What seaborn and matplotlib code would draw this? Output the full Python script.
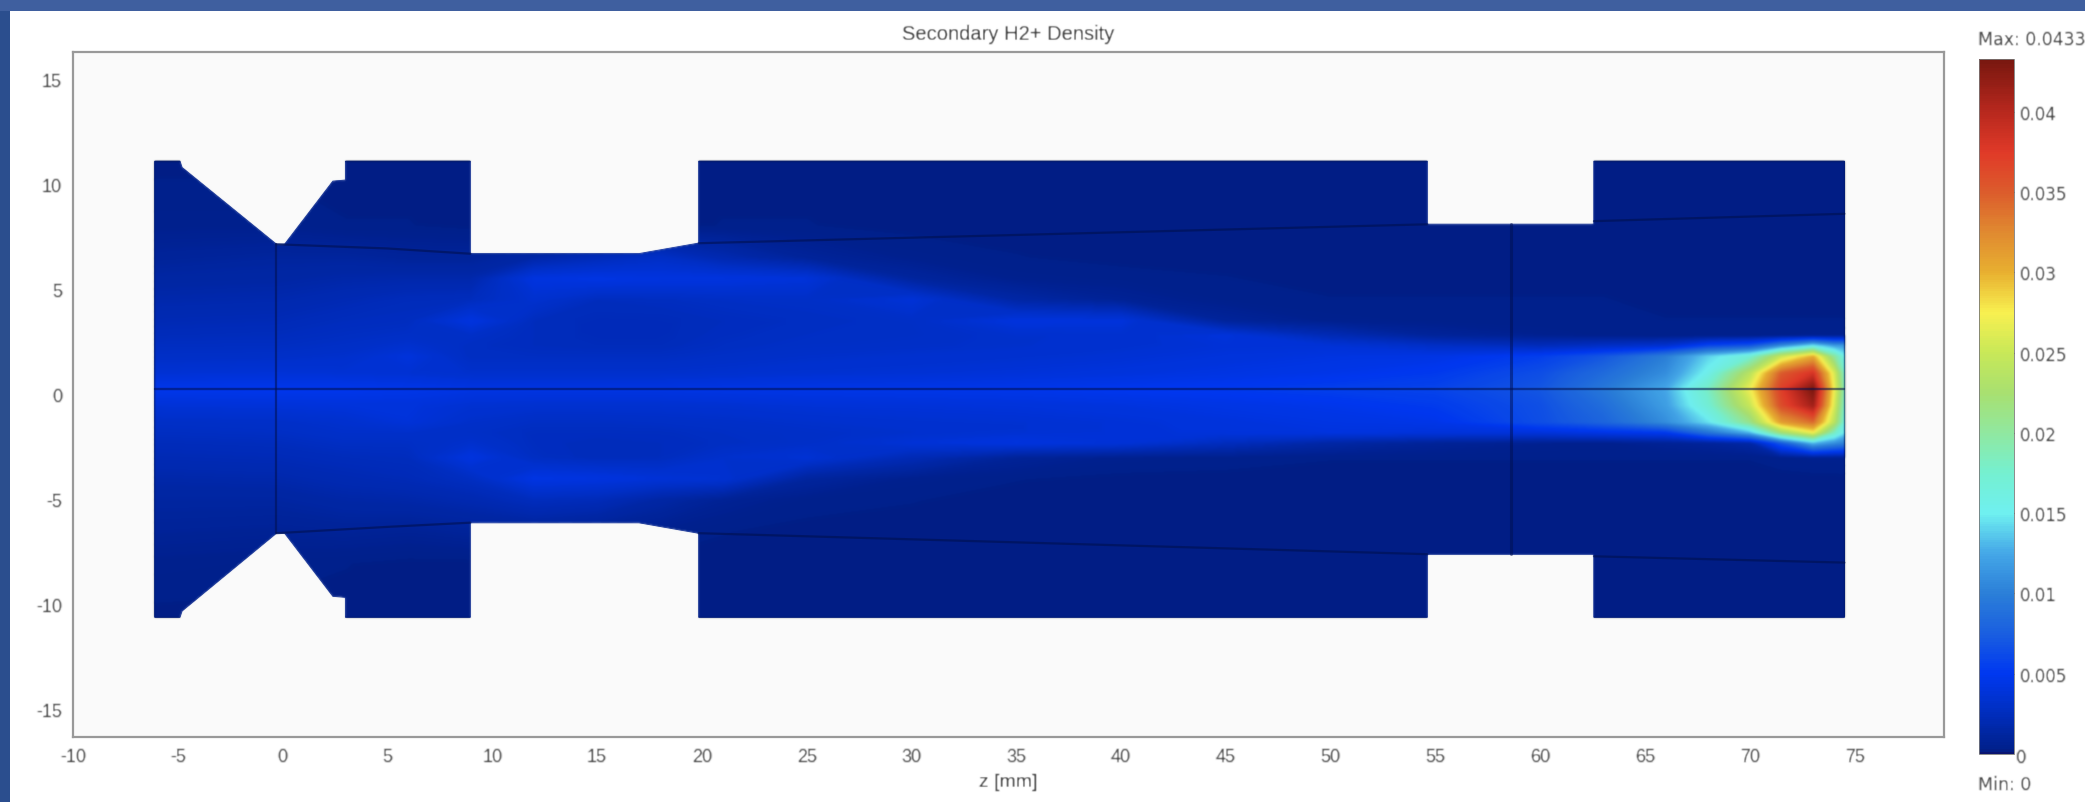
import numpy as np
import matplotlib
matplotlib.use("Agg")
import matplotlib.pyplot as plt
import seaborn as sns
from matplotlib.colors import LinearSegmentedColormap
from matplotlib.patches import Polygon, Rectangle

sns.set_theme(style="white")
plt.rcParams['font.family'] = ['Liberation Sans', 'DejaVu Sans']

# domain outline, mm
outline_z = [-6.1, -4.9, -4.8, -0.3, 0.1, 2.4, 3, 3, 8.95, 8.95, 17, 19.85, 19.85, 54.6, 54.6, 62.55, 62.55, 74.5,
             74.5, 62.55, 62.55, 54.6, 54.6, 19.85, 19.85, 17, 8.95, 8.95, 3, 3, 2.4, 0.1, -0.3, -4.8, -4.9, -6.1]
outline_r = [11.1, 11.1, 10.8, 7.15, 7.15, 10.15, 10.2, 11.1, 11.1, 6.7, 6.7, 7.2, 11.1, 11.1, 8.1, 8.1, 11.1, 11.1,
             -10.6, -10.6, -7.6, -7.6, -10.6, -10.6, -6.6, -6.1, -6.1, -10.6, -10.6, -9.65, -9.6, -6.6, -6.6, -10.3, -10.6, -10.6]

# thin dark edges inside the domain
axis_z, axis_r = [-6.1, 74.5], [0.25, 0.25]
inlet_z, inlet_r = [-0.3, -0.3], [7.15, -6.6]
gap_z, gap_r = [58.6, 58.6], [8.1, -7.6]
upper_a_z, upper_a_r = [-0.3, 5, 8.95], [7.15, 6.95, 6.7]
upper_b_z, upper_b_r = [19.85, 54.6], [7.2, 8.1]
upper_c_z, upper_c_r = [62.55, 74.5], [8.25, 8.6]
lower_a_z, lower_a_r = [-0.3, 5, 8.95], [-6.6, -6.3, -6.1]
lower_b_z, lower_b_r = [19.85, 54.6], [-6.6, -7.6]
lower_c_z, lower_c_r = [62.55, 74.5], [-7.7, -8.0]

# density, units of 1e-3
z_st = [-6.2, -0.3, 3, 6, 9, 12, 15, 18, 21, 25, 30, 35, 40, 45, 50, 55, 60, 63, 66, 68, 70, 71.5, 73, 74, 74.6]
r_st = [11.2, 8, 6.5, 5.5, 4.5, 3.5, 2.8, 2.3, 1.8, 1.0, 0.25, -0.5, -1.3, -1.8, -2.3, -3, -4, -5, -6.5, -8, -10.7]
profiles = [
    [.2, .5, 1.0, 1.4, 1.8, 2.2, 2.5, 2.8, 3.0, 3.7, 4.8, 3.8, 3.0, 2.8, 2.5, 2.2, 1.7, 1.3, .9, .5, .2],
    [.2, .5, 1.2, 1.5, 1.9, 2.3, 2.6, 2.8, 3.1, 3.8, 4.9, 3.9, 3.1, 2.9, 2.6, 2.3, 1.8, 1.3, .8, .4, .2],
    [.2, .3, 1.2, 1.7, 2.2, 2.6, 2.8, 3.0, 3.3, 3.7, 4.9, 4.0, 3.4, 3.2, 2.9, 2.5, 2.1, 1.6, .9, .3, .2],
    [.2, .3, 1.0, 1.8, 2.5, 2.7, 3.0, 3.4, 4.0, 3.6, 4.7, 4.0, 3.9, 3.2, 2.9, 2.6, 2.3, 1.7, .8, .2, .2],
    [.2, .2, 1.0, 1.8, 2.6, 4.2, 3.0, 2.8, 2.8, 3.3, 4.4, 3.6, 3.2, 3.0, 3.3, 4.2, 2.8, 2.0, 1.0, .2, .2],
    [.2, .2, 1.6, 4.2, 3.4, 2.6, 2.6, 2.6, 2.8, 3.3, 4.4, 3.5, 2.9, 2.7, 2.7, 2.8, 4.4, 2.6, 1.0, .2, .2],
    [.2, .2, 2.4, 4.4, 2.6, 2.4, 2.4, 2.5, 2.8, 3.3, 4.4, 3.5, 2.9, 2.7, 2.5, 2.5, 4.2, 2.4, .7, .2, .2],
    [.2, .2, 3.0, 4.2, 2.7, 2.4, 2.4, 2.5, 2.8, 3.3, 4.4, 3.5, 3.0, 2.7, 2.6, 2.6, 3.8, 1.5, .5, .2, .2],
    [.2, .3, 2.0, 4.2, 2.9, 2.6, 2.7, 2.8, 3.0, 3.4, 4.5, 3.6, 3.1, 2.9, 2.8, 3.3, 3.6, .8, .3, .2, .2],
    [.2, .3, 1.0, 3.9, 3.0, 2.8, 2.9, 3.0, 3.2, 3.6, 4.6, 3.8, 3.3, 3.1, 3.1, 3.7, 1.2, .4, .2, .2, .2],
    [.2, .2, .5, 1.2, 3.8, 3.0, 3.0, 3.1, 3.4, 3.7, 4.7, 3.9, 3.5, 3.3, 3.8, 2.2, .5, .3, .2, .2, .2],
    [.2, .2, .3, .5, 1.5, 4.1, 3.3, 3.3, 3.5, 3.9, 4.8, 4.0, 3.6, 3.6, 4.2, .9, .3, .2, .2, .2, .2],
    [.2, .2, .2, .4, .8, 4.0, 3.4, 3.5, 3.7, 4.1, 5.0, 4.2, 3.8, 3.8, 3.8, .5, .2, .2, .2, .2, .2],
    [.2, .2, .2, .3, .4, 1.0, 4.0, 3.8, 4.0, 4.4, 5.2, 4.5, 4.1, 4.0, 2.6, .4, .2, .2, .2, .2, .2],
    [.2, .2, .2, .2, .3, .5, 2.2, 3.8, 4.3, 4.7, 5.5, 4.8, 4.4, 4.2, 1.5, .3, .2, .2, .2, .2, .2],
    [.2, .2, .2, .2, .3, .4, 1.0, 3.0, 4.5, 5.2, 5.8, 5.3, 4.7, 4.0, .9, .3, .2, .2, .2, .2, .2],
    [.2, .2, .2, .2, .3, .3, .6, 2.5, 5.5, 6.5, 7.0, 6.6, 6.5, 4.0, .6, .3, .2, .2, .2, .2, .2],
    [.2, .2, .2, .2, .3, .3, .4, 3.0, 7.0, 8.5, 9.5, 8.7, 8.0, 4.5, .5, .3, .2, .2, .2, .2, .2],
    [.2, .2, .2, .2, .2, .3, .3, 3.5, 10, 11, 12.5, 12, 11, 5.0, .8, .3, .2, .2, .2, .2, .2],
    [.2, .2, .2, .2, .2, .3, .3, 6.0, 14, 15.5, 18, 17, 14.5, 9.0, 1.0, .3, .2, .2, .2, .2, .2],
    [.2, .2, .2, .2, .2, .3, .3, 7.0, 17, 24, 27, 25, 21, 13, 1.5, .3, .2, .2, .2, .2, .2],
    [.2, .2, .2, .2, .2, .3, .4, 11, 25, 35, 37, 36, 31, 22, 7.0, .4, .2, .2, .2, .2, .2],
    [.2, .2, .2, .2, .2, .3, .5, 15, 30, 38, 43, 41, 34, 27, 13, .5, .2, .2, .2, .2, .2],
    [.2, .2, .2, .2, .2, .3, .5, 12, 20, 26, 27, 26, 24, 18, 11, .5, .2, .2, .2, .2, .2],
    [.2, .2, .2, .2, .2, .3, .6, 12, 15, 16, 17, 16, 15, 14, 10, .6, .2, .2, .2, .2, .2],
]

# colour scale stops, value in 1e-3
scale_vals = [0, 0.2, 3, 5, 7.5, 10, 12.5, 15, 17.5, 20, 22.5, 25, 27.5, 30, 32.5, 35, 37.5, 40, 43.3]
scale_cols = ["#0a1570", "#00208a", "#0030c8", "#0038f0", "#1a5fe0", "#2b7fd8", "#45a8e8", "#6ff0f0", "#75f0d0",
              "#90e8a0", "#a8e070", "#c8e858", "#f8f050", "#e8b030", "#e08a30", "#dc5c2c", "#e03a28", "#b8281e", "#78170f"]
cbar_ticks = [0.005, 0.01, 0.015, 0.02, 0.025, 0.03, 0.035, 0.04]
cbar_labels = ["0.005", "0.01", "0.015", "0.02", "0.025", "0.03", "0.035", "0.04"]


def soften(sigma):
    # the source is a blurry screenshot
    r = int(3 * sigma)
    k = np.exp(-0.5 * (np.arange(-r, r + 1) / sigma) ** 2)
    k /= k.sum()

    def f(im, dpi):
        pad = np.pad(im, ((r, r), (r, r), (0, 0)))
        out = np.apply_along_axis(lambda m: np.convolve(m, k, mode="same"), 0, pad)
        out = np.apply_along_axis(lambda m: np.convolve(m, k, mode="same"), 1, out)
        return out, -r, -r
    return f


W, H = 2085, 803
fig = plt.figure(figsize=(W / 100, H / 100), dpi=100, facecolor="#2b4e8e")
fig.add_artist(Rectangle((0, 1 - 12 / H), 1, 12 / H, transform=fig.transFigure, color="#3f5f9f", lw=0, zorder=-2))
fig.add_artist(Rectangle((10 / W, 0), 1 - 10 / W, 1 - 12 / H, transform=fig.transFigure, color="white", lw=0, zorder=-2))

ax = fig.add_axes([73 / W, 1 - 738 / H, (1944 - 73) / W, (738 - 53) / H], facecolor="#fafafa")

pos = [v / scale_vals[-1] for v in scale_vals]
cmap = LinearSegmentedColormap.from_list("density", list(zip(pos, scale_cols)), N=512)

dens = np.array(profiles).T * 1e-3
levels = np.linspace(0, 0.0433, 300)
cs = ax.contourf(z_st, r_st, dens, levels=levels, cmap=cmap, antialiased=False, zorder=1)
shape = Polygon(np.column_stack([outline_z, outline_r]), closed=True, fc="#00208a", ec="#00208a", lw=0.8, zorder=0.5)
ax.add_patch(shape)
cs.set_clip_path(shape)
cs.set_agg_filter(soften(1.0))

edges = [(axis_z, axis_r, 1.7, 0.55), (inlet_z, inlet_r, 1.6, 0.55), (gap_z, gap_r, 2.2, 0.5),
         (upper_a_z, upper_a_r, 1.6, 0.6), (upper_b_z, upper_b_r, 1.6, 0.6), (upper_c_z, upper_c_r, 1.6, 0.6),
         (lower_a_z, lower_a_r, 1.6, 0.6), (lower_b_z, lower_b_r, 1.6, 0.6), (lower_c_z, lower_c_r, 1.6, 0.6)]
for ez, er, lw, al in edges:
    sns.lineplot(x=ez, y=er, ax=ax, color="#00104f", lw=lw, alpha=al, estimator=None, sort=False, legend=False)

ax.set_xlim(-10, 79.25)
ax.set_ylim(-16.3, 16.3)
ax.set_xticks(range(-10, 80, 5))
ax.set_yticks(range(-15, 20, 5))
ax.tick_params(length=0, labelsize=13, labelcolor="#3c3c3c", pad=8)
ax.set_xticklabels([str(t) for t in range(-10, 80, 5)])
ax.set_yticklabels([str(t) for t in range(-15, 20, 5)])
ax.set_xlabel("z [mm]", fontsize=14, color="#303030", labelpad=6)
ax.set_title("Secondary H2+ Density", fontsize=14.5, color="#303030", pad=9)
for side in ax.spines:
    ax.spines[side].set_color("#999999")
    ax.spines[side].set_linewidth(1.6)

cax = fig.add_axes([1979 / W, 1 - 755 / H, (2014 - 1979) / W, (755 - 60) / H])
cb = fig.colorbar(cs, cax=cax, ticks=cbar_ticks)
cb.ax.set_yticklabels(cbar_labels, family="DejaVu Sans")
cb.outline.set_edgecolor("#777777")
cb.outline.set_linewidth(0.6)
cb.ax.tick_params(direction="in", left=True, right=True, length=5, width=0.8, color="#222222",
                  labelsize=12, labelcolor="#3c3c3c", pad=4)
texts = [fig.text(2016 / W, 1 - 758 / H, "0", fontsize=12, color="#3c3c3c", va="center", family="DejaVu Sans"),
         fig.text(1978 / W, 1 - 40 / H, "Max: 0.0433", fontsize=12.5, color="#3c3c3c", va="center", family="DejaVu Sans"),
         fig.text(1978 / W, 1 - 785 / H, "Min: 0", fontsize=12.5, color="#3c3c3c", va="center", family="DejaVu Sans")]

blur = soften(0.7)
for t in texts + ax.get_xticklabels() + ax.get_yticklabels() + cb.ax.get_yticklabels() + [ax.title, ax.xaxis.label]:
    t.set_agg_filter(blur)

fig.savefig("out.png", dpi=100, facecolor=fig.get_facecolor())
